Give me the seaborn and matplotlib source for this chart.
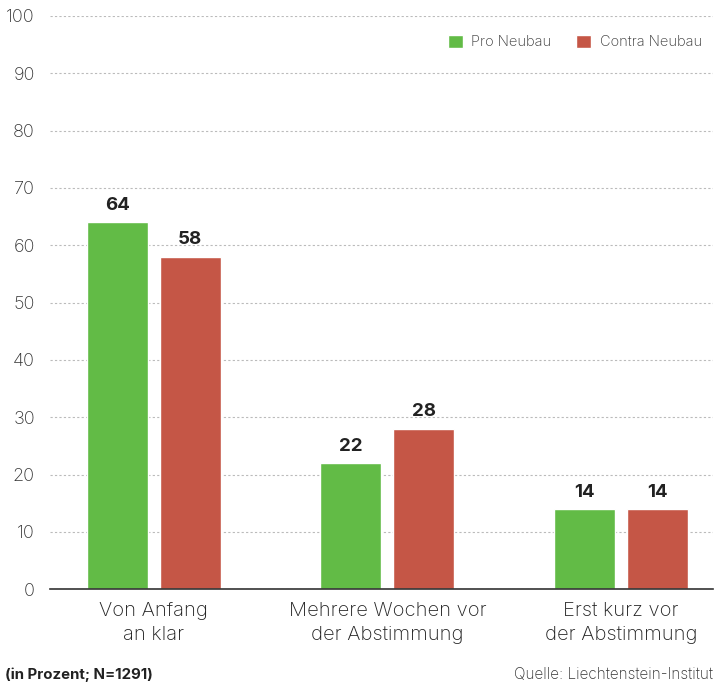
import matplotlib
matplotlib.use("Agg")
import matplotlib.pyplot as plt
import seaborn as sns
import pandas as pd

categories = ["Von Anfang\nan klar", "Mehrere Wochen vor\nder Abstimmung", "Erst kurz vor\nder Abstimmung"]
series = ["Pro Neubau", "Contra Neubau"]
pro_values = [64, 22, 14]
contra_values = [58, 28, 14]
y_ticks = [0, 10, 20, 30, 40, 50, 60, 70, 80, 90, 100]
colors = ["#62BB46", "#C55646"]

df = pd.DataFrame({
    "Kategorie": categories * 2,
    "Gruppe": [series[0]] * 3 + [series[1]] * 3,
    "Wert": pro_values + contra_values,
})

sns.set_style("white")
plt.rcParams["font.family"] = ["Inter", "DejaVu Sans"]

fig = plt.figure(figsize=(7.15, 6.9), dpi=100)
ax = fig.add_axes([0.07, 0.146, 0.927, 0.831])

sns.barplot(data=df, x="Kategorie", y="Wert", hue="Gruppe", palette=colors,
            width=0.624, gap=0.164, saturation=1, ax=ax, legend=True)

for container in ax.containers:
    ax.bar_label(container, fmt="%d", padding=6, fontsize=13.5,
                 fontweight="bold", color="#222222")

ax.set_ylim(0, 100)
ax.set_xlim(-0.444, 2.393)
ax.set_yticks(y_ticks)
ax.yaxis.grid(True, linestyle=(0, (2, 2)), color="#bbbbbb", linewidth=0.8)
ax.set_axisbelow(True)
for side in ["top", "right", "left"]:
    ax.spines[side].set_visible(False)
ax.spines["bottom"].set_color("#333333")
ax.spines["bottom"].set_linewidth(1.2)
ax.tick_params(axis="y", length=0, pad=11, labelsize=13, labelcolor="#333333")
ax.tick_params(axis="x", length=0, pad=9, labelsize=14.5, labelcolor="#222222")
for lbl in ax.get_yticklabels():
    lbl.set_fontweight("light")
for lbl in ax.get_xticklabels():
    lbl.set_fontweight("light")
    lbl.set_linespacing(1.45)
ax.set_xlabel("")
ax.set_ylabel("")

leg = ax.legend(loc="upper right", bbox_to_anchor=(1.003, 0.99), ncol=2, frameon=False,
                handlelength=1.0, handleheight=1.0, handletextpad=0.6,
                columnspacing=1.7, fontsize=10.5)
for t in leg.get_texts():
    t.set_color("#333333")
    t.set_fontweight("light")

fig.text(0.007, 0.012, "(in Prozent; N=1291)", fontsize=10.8, fontweight="bold",
         color="#222222", ha="left", va="bottom")
fig.text(0.997, 0.012, "Quelle: Liechtenstein-Institut", fontsize=11,
         fontweight="light", color="#333333", ha="right", va="bottom")

fig.savefig("out.png", dpi=100)
